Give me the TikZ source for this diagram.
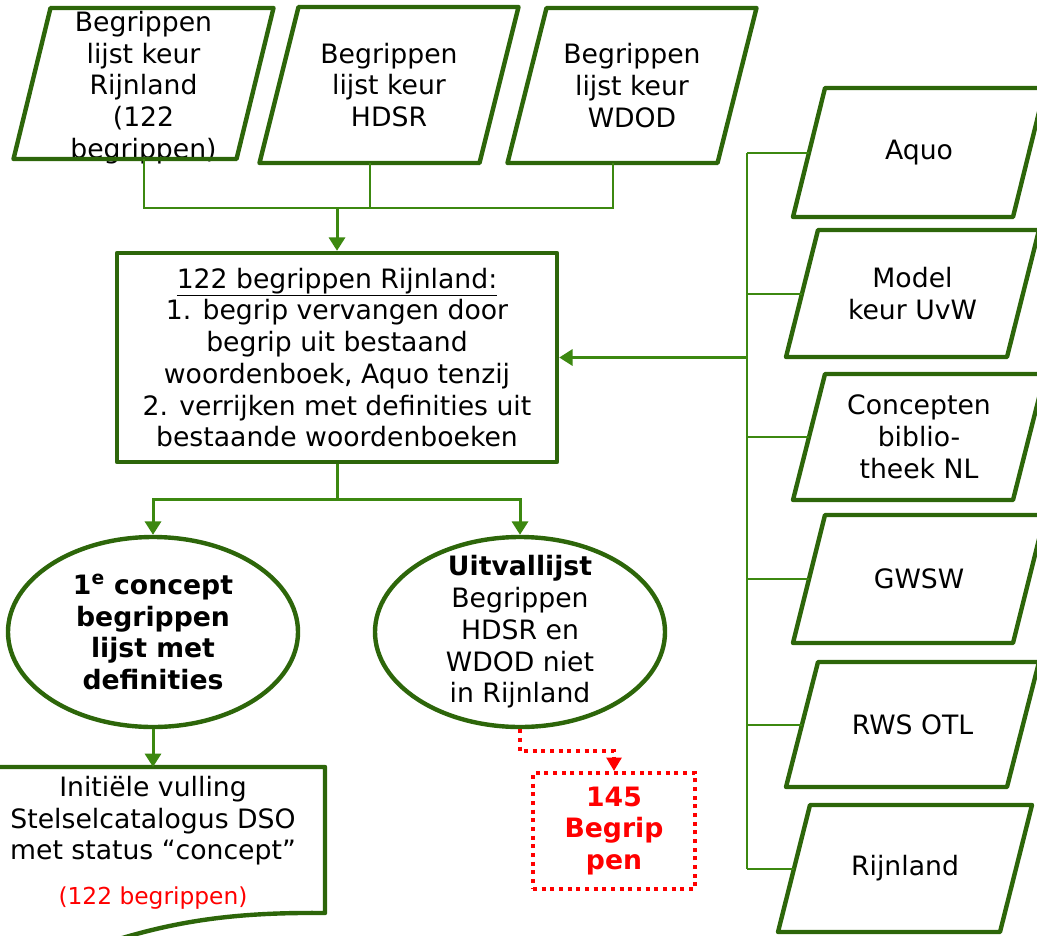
\documentclass[tikz,border=0pt]{standalone}
\usepackage{fontspec}
\setmainfont{DejaVu Sans}
\usetikzlibrary{arrows.meta,shapes.geometric,positioning,calc}

\definecolor{randgroen}{RGB}{45,102,10}
\definecolor{lijngroen}{RGB}{60,136,16}
\definecolor{rood}{RGB}{255,0,0}

\tikzset{
  pixel/.style={x=0.75pt,y=-0.75pt},
  tekst/.style={font=\fontsize{20}{23.8}\selectfont, align=center, inner sep=0pt},
  bron/.style={rectangle, tekst, outer sep=0pt},
  rand/.style={draw=randgroen, line width=3.3pt, line join=round},
  hoofdvak/.style={rectangle, rand, fill=white, tekst},
  ovaal/.style={ellipse, rand, fill=white},
  roodvak/.style={rectangle, draw=rood, line width=3pt, dash pattern=on 3pt off 3.5pt,
                  text=rood, tekst, font=\fontsize{20}{23.8}\selectfont\bfseries},
  dun/.style={lijngroen, line width=1.5pt},
  pijl/.style={lijngroen, line width=2.25pt, -{Triangle[length=10pt,width=12pt]}},
  roodpijl/.style={rood, line width=3pt, dash pattern=on 3pt off 3.5pt,
                   -{Triangle[length=10pt,width=11pt]}}
}

\begin{document}
\begin{tikzpicture}[pixel]
  % Define dimensions
  \def\pix{0.75pt}
  \useasboundingbox (0,0) rectangle (1037,935);
  \clip (0,0) rectangle (1037,935);

  % Begrippenlijsten boven
  \node[bron, minimum width=223*\pix, minimum height=151*\pix,
        label={[tekst, yshift=-3pt]center:{Begrippen\\lijst keur\\Rijnland\\(122\\begrippen)}}]
        (lijstrijn) at (143.5,83.5) {};
  \node[bron, minimum width=220*\pix, minimum height=156*\pix]
        (lijsthdsr) at (389,85) {Begrippen\\lijst keur\\HDSR};
  \node[bron, minimum width=210*\pix, minimum height=155*\pix]
        (lijstwdod) at (632,85.5) {Begrippen\\lijst keur\\WDOD};

  % Hoofdvak
  \node[hoofdvak, minimum width=440*\pix, minimum height=209*\pix] (hoofd) at (337,357.5)
        {\underline{122 begrippen Rijnland:}\\1. begrip vervangen door\\begrip uit bestaand\\woordenboek, Aquo tenzij\\2. verrijken met definities uit\\bestaande woordenboeken};

  % Woordenboeken rechts
  \node[bron, minimum width=220*\pix, minimum height=129*\pix] (aquo) at (919,152.5) {Aquo};
  \node[bron, minimum width=221*\pix, minimum height=127*\pix] (modelkeur) at (912.5,293.5) {Model\\keur UvW};
  \node[bron, minimum width=220*\pix, minimum height=126*\pix] (conbib) at (919,437) {Concepten\\biblio-\\theek NL};
  \node[bron, minimum width=220*\pix, minimum height=128*\pix] (gwsw) at (919,579) {GWSW};
  \node[bron, minimum width=221*\pix, minimum height=125*\pix] (rwsotl) at (912.5,724.5) {RWS OTL};
  \node[bron, minimum width=222*\pix, minimum height=127*\pix] (rijnland) at (905,868.5) {Rijnland};

  % Schuine randen
  \foreach \b/\s in {lijstrijn/37, lijsthdsr/39, lijstwdod/39, aquo/32, modelkeur/32,
                     conbib/32, gwsw/32, rwsotl/32, rijnland/32}
      \draw[rand] ([xshift=-\s*0.375pt]\b.south west) -- ([xshift=-\s*0.375pt]\b.south east)
                  -- ([xshift=\s*0.375pt]\b.north east) -- ([xshift=\s*0.375pt]\b.north west) -- cycle;

  % Resultaten
  \node[ovaal, minimum width=290*\pix, minimum height=190*\pix,
        label={[tekst, font=\fontsize{20}{23.8}\selectfont\bfseries]center:{1\textsuperscript{e} concept\\begrippen\\lijst met\\definities}}]
        (concept) at (153,632) {};
  \node[ovaal, minimum width=290*\pix, minimum height=190*\pix,
        label={[tekst]center:{\textbf{Uitvallijst}\\Begrippen\\HDSR en\\WDOD niet\\in Rijnland}}]
        (uitval) at (520,632) {};
  \node[roodvak, minimum width=162*\pix, minimum height=116*\pix] (telling) at (614,831) {145\\Begrip\\pen};

  % Document onder
  \draw[rand, fill=white]
        (-21,960) -- (-21,767) -- (325,767) -- (325,913)
        .. controls (230,912) and (170,922) .. (100,945) -- cycle;
  \coordinate (docboven) at (153,767);
  \node[tekst] (stelsel) at (153,843)
        {Initiële vulling\\Stelselcatalogus DSO\\met status “concept”\\[10pt]{\color{rood}\fontsize{17.5}{21}\selectfont(122 begrippen)}};

  % Verbindingen boven
  \coordinate (tj) at (337,208);
  \draw[dun] (lijstrijn.south) |- (tj);
  \draw[dun] ([xshift=-19.5*0.75pt]lijsthdsr.south) -- ([xshift=-19.5*0.75pt]lijsthdsr.south |- tj);
  \draw[dun] (tj) -| ([xshift=-19.5*0.75pt]lijstwdod.south);
  \draw[pijl] (tj) -- (hoofd.north);

  % Verbindingen rechts
  \coordinate (rj) at (747,357.5);
  \draw[dun] (aquo.west -| rj) -- (rijnland.west -| rj);
  \foreach \b in {aquo,modelkeur,conbib,gwsw,rwsotl,rijnland}
      \draw[dun] (\b.west -| rj) -- (\b.west);
  \draw[pijl] (rj) -- (hoofd.east);

  % Verbindingen onder
  \coordinate (mj) at (337,499);
  \draw[lijngroen, line width=2.25pt] (hoofd.south) -- (mj);
  \draw[pijl] (mj) -| (concept.north);
  \draw[pijl] (mj) -| (uitval.north);
  \draw[pijl] (concept.south) -- (docboven);
  \draw[roodpijl] (uitval.south) -- ++(0,22) -| (telling.north);

\end{tikzpicture}
\end{document}
